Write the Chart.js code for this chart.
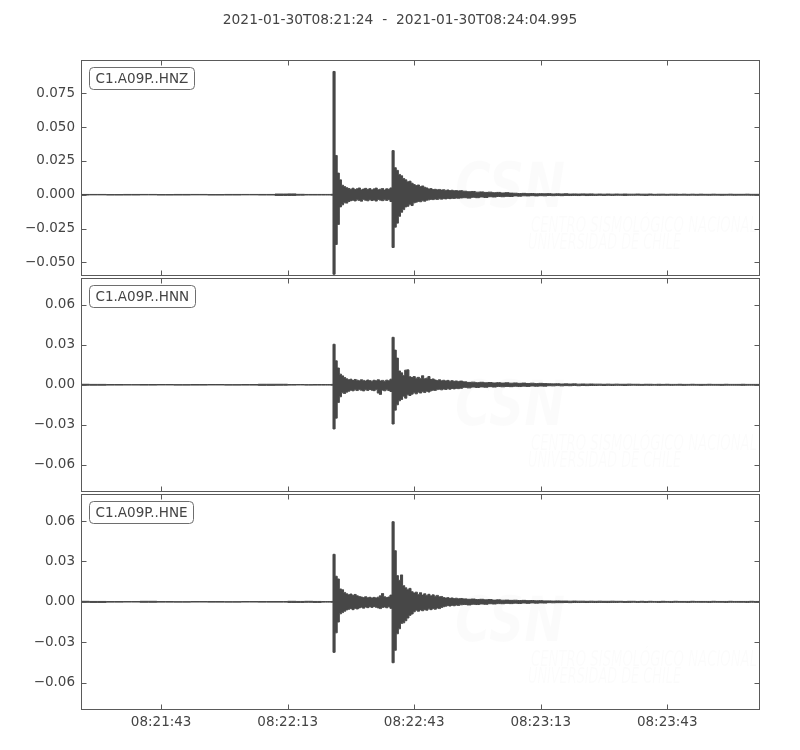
<!DOCTYPE html>
<html><head><meta charset="utf-8">
<script src="https://cdn.jsdelivr.net/npm/chart.js@4"></script>
<style>
html,body{margin:0;padding:0;background:#fff;}
#wrap{position:relative;width:800px;height:750px;overflow:hidden;background:#fff;}
canvas{position:absolute;left:0;}
</style></head><body>
<div id="wrap">
<canvas id="c1" width="800" height="290" style="top:0px"></canvas>
<canvas id="c2" width="800" height="242" style="top:264px"></canvas>
<canvas id="c3" width="800" height="270" style="top:480px"></canvas>
</div>
<script>
// ---------------- DATA ----------------
const titleText = '2021-01-30T08:21:24  -  2021-01-30T08:24:04.995';
const channels = ['C1.A09P..HNZ', 'C1.A09P..HNN', 'C1.A09P..HNE'];
const traceEnd = 160.995; // seconds after 08:21:24

// x tick positions (seconds after 08:21:24) and their labels
const xTickSec = [19, 49, 79, 109, 139];
const xTickLabels = ['08:21:43', '08:22:13', '08:22:43', '08:23:13', '08:23:43'];

// y ticks per panel
const yTicksZ = [-0.05, -0.025, 0, 0.025, 0.05, 0.075];
const yTickLabelsZ = ['\u22120.050', '\u22120.025', '0.000', '0.025', '0.050', '0.075'];
const yTicksNE = [-0.06, -0.03, 0, 0.03, 0.06];
const yTickLabelsNE = ['\u22120.06', '\u22120.03', '0.00', '0.03', '0.06'];
const yRangeZ = [-0.0600, 0.0996];
const yRangeNE = [-0.0803, 0.0800];

// sample times (s after start) of the envelope bins
const timeSec = [0,4,8,12,16,20,24,28,32,36,40,44,48,50,52,54,56,58,
59,59.5,
60,60.5,61,61.5,62,62.5,
63,63.5,64,64.5,65,65.5,66,66.5,67,67.5,68,68.5,69,69.5,70,70.5,71,71.5,72,72.5,73,73.5,
74,74.5,75,75.5,76,76.5,77,77.5,78,78.5,79,79.5,80,80.5,81,81.5,82,82.5,83,83.5,84,84.5,85,85.5,86,86.5,87,87.5,88,88.5,89,89.5,90,
91,92,93,94,95,96,97,98,99,100,101,102,103,104,105,106,107,108,109,110,
111,112,113,114,115,116,117,118,119,120,121,122,123,124,125,126,127,128,129,130,
131,132,133,134,135,136,137,138,139,140,141,142,143,144,145,146,147,148,149,150,
151,152,153,154,155,156,157,158,159,160,161];

// HNZ envelope (max / min per bin)
const hnzMax = [0.0002,0.0002,0.0001,0.0002,0.0002,0.0001,0.0002,0.0002,0.0001,0.0002,0.0002,0.0002,0.0005,0.0006,0.0003,0.0002,0.0002,0.0002,
0.0002,0.0003,
0.0911,0.0290,0.0160,0.0110,0.0070,0.0060,
0.0052,0.0046,0.0040,0.0048,0.0038,0.0044,0.0050,0.0036,0.0042,0.0047,0.0039,0.0045,0.0035,0.0043,0.0049,0.0037,0.0041,0.0046,0.0034,0.0044,0.0040,0.0050,
0.0326,0.0200,0.0180,0.0150,0.0140,0.0120,0.0110,0.0095,0.0100,0.0085,0.0075,0.0068,0.0072,0.0060,0.0065,0.0055,0.0050,0.0042,0.0045,0.0038,0.0040,0.0036,0.0039,0.0034,0.0037,0.0032,0.0035,0.0030,0.0033,0.0029,0.0031,0.0028,0.0030,
0.0026,0.0022,0.0024,0.0019,0.0021,0.0017,0.0019,0.0015,0.0017,0.0013,0.0015,0.0012,
0.0011,0.0009,0.0010,0.0008,0.0009,0.0007,0.0008,0.0007,0.0008,0.0006,
0.0007,0.0006,0.0007,0.0005,0.0006,0.0005,0.0006,0.0005,0.0006,0.0004,
0.0005,0.0004,0.0005,0.0004,0.0005,0.0004,0.0005,0.0004,0.0004,0.0005,
0.0004,0.0004,0.0005,0.0003,0.0004,0.0004,0.0003,0.0004,0.0004,0.0003,
0.0004,0.0003,0.0004,0.0003,0.0004,0.0003,0.0003,0.0004,0.0003,0.0003,
0.0003,0.0004,0.0003,0.0003,0.0003,0.0004,0.0003,0.0003,0.0003];
const hnzMin = [-0.0002,-0.0001,-0.0002,-0.0002,-0.0001,-0.0002,-0.0002,-0.0001,-0.0002,-0.0002,-0.0001,-0.0002,-0.0005,-0.0005,-0.0003,-0.0002,-0.0002,-0.0002,
-0.0002,-0.0003,
-0.0588,-0.0368,-0.0220,-0.0090,-0.0075,-0.0060,
-0.0062,-0.0050,-0.0044,-0.0040,-0.0046,-0.0038,-0.0042,-0.0048,-0.0036,-0.0041,-0.0045,-0.0037,-0.0043,-0.0039,-0.0047,-0.0035,-0.0040,-0.0044,-0.0038,-0.0042,-0.0036,-0.0050,
-0.0390,-0.0240,-0.0210,-0.0160,-0.0130,-0.0110,-0.0090,-0.0085,-0.0070,-0.0080,-0.0060,-0.0055,-0.0050,-0.0052,-0.0045,-0.0048,-0.0040,-0.0038,-0.0034,-0.0036,-0.0032,-0.0035,-0.0030,-0.0033,-0.0029,-0.0031,-0.0027,-0.0029,-0.0026,-0.0028,-0.0025,-0.0027,-0.0024,
-0.0022,-0.0025,-0.0019,-0.0022,-0.0017,-0.0020,-0.0015,-0.0017,-0.0013,-0.0015,-0.0012,-0.0013,
-0.0009,-0.0011,-0.0008,-0.0009,-0.0007,-0.0009,-0.0007,-0.0008,-0.0006,-0.0007,
-0.0006,-0.0007,-0.0005,-0.0006,-0.0005,-0.0006,-0.0004,-0.0006,-0.0005,-0.0005,
-0.0004,-0.0005,-0.0004,-0.0005,-0.0004,-0.0004,-0.0005,-0.0004,-0.0004,-0.0003,
-0.0004,-0.0005,-0.0003,-0.0004,-0.0004,-0.0003,-0.0004,-0.0003,-0.0004,-0.0003,
-0.0003,-0.0004,-0.0003,-0.0004,-0.0003,-0.0003,-0.0004,-0.0003,-0.0003,-0.0004,
-0.0003,-0.0003,-0.0004,-0.0003,-0.0003,-0.0003,-0.0004,-0.0003,-0.0003];

// HNN envelope
const hnnMax = [0.0004,0.0003,0.0002,0.0001,0.0002,0.0002,0.0001,0.0002,0.0002,0.0001,0.0002,0.0004,0.0004,0.0002,0.0002,0.0001,0.0002,0.0002,
0.0002,0.0003,
0.0304,0.0180,0.0126,0.0080,0.0067,0.0055,
0.0045,0.0038,0.0042,0.0032,0.0040,0.0035,0.0030,0.0038,0.0033,0.0028,0.0036,0.0031,0.0027,0.0034,0.0030,0.0038,0.0029,0.0033,0.0027,0.0035,0.0030,0.0042,
0.0356,0.0260,0.0200,0.0104,0.0090,0.0070,0.0110,0.0112,0.0060,0.0055,0.0062,0.0050,0.0056,0.0048,0.0068,0.0045,0.0050,0.0062,0.0040,0.0044,0.0036,0.0032,0.0038,0.0030,0.0034,0.0029,0.0033,0.0027,0.0031,0.0026,0.0029,0.0025,0.0028,
0.0022,0.0018,0.0020,0.0016,0.0019,0.0015,0.0017,0.0014,0.0016,0.0013,0.0015,0.0012,0.0014,0.0011,0.0013,0.0010,0.0012,0.0009,0.0011,0.0009,
0.0008,0.0007,0.0008,0.0006,0.0007,0.0006,0.0007,0.0005,0.0006,0.0005,
0.0006,0.0005,0.0005,0.0004,0.0005,0.0004,0.0005,0.0004,0.0004,0.0005,
0.0004,0.0004,0.0003,0.0004,0.0004,0.0003,0.0004,0.0003,0.0004,0.0003,
0.0003,0.0004,0.0003,0.0003,0.0004,0.0003,0.0003,0.0003,0.0004,0.0003,
0.0003,0.0003,0.0004,0.0003,0.0003,0.0003,0.0004,0.0003,0.0003,0.0003,0.0003];
const hnnMin = [-0.0003,-0.0003,-0.0002,-0.0001,-0.0002,-0.0001,-0.0002,-0.0002,-0.0001,-0.0002,-0.0002,-0.0004,-0.0003,-0.0002,-0.0001,-0.0002,-0.0002,-0.0002,
-0.0002,-0.0003,
-0.0331,-0.0250,-0.0133,-0.0090,-0.0060,-0.0065,
-0.0055,-0.0048,-0.0040,-0.0045,-0.0038,-0.0043,-0.0036,-0.0041,-0.0046,-0.0037,-0.0042,-0.0035,-0.0040,-0.0044,-0.0036,-0.0062,-0.0072,-0.0040,-0.0045,-0.0038,-0.0043,-0.0050,
-0.0294,-0.0190,-0.0150,-0.0120,-0.0110,-0.0085,-0.0100,-0.0075,-0.0080,-0.0070,-0.0060,-0.0068,-0.0055,-0.0062,-0.0052,-0.0058,-0.0048,-0.0054,-0.0045,-0.0040,-0.0042,-0.0036,-0.0034,-0.0038,-0.0032,-0.0035,-0.0030,-0.0033,-0.0028,-0.0031,-0.0027,-0.0029,-0.0026,
-0.0019,-0.0023,-0.0017,-0.0020,-0.0016,-0.0018,-0.0014,-0.0017,-0.0013,-0.0015,-0.0012,-0.0014,-0.0011,-0.0013,-0.0010,-0.0012,-0.0009,-0.0011,-0.0009,-0.0010,
-0.0007,-0.0008,-0.0006,-0.0008,-0.0006,-0.0007,-0.0005,-0.0007,-0.0005,-0.0006,
-0.0005,-0.0005,-0.0004,-0.0005,-0.0004,-0.0005,-0.0004,-0.0004,-0.0005,-0.0004,
-0.0003,-0.0004,-0.0004,-0.0003,-0.0004,-0.0003,-0.0004,-0.0003,-0.0003,-0.0004,
-0.0003,-0.0003,-0.0004,-0.0003,-0.0003,-0.0003,-0.0004,-0.0003,-0.0003,-0.0003,
-0.0003,-0.0004,-0.0003,-0.0003,-0.0003,-0.0003,-0.0004,-0.0003,-0.0003,-0.0003,-0.0003];

// HNE envelope
const hneMax = [0.0004,0.0003,0.0002,0.0002,0.0004,0.0002,0.0001,0.0002,0.0002,0.0001,0.0002,0.0002,0.0002,0.0004,0.0003,0.0004,0.0003,0.0002,
0.0002,0.0003,
0.0353,0.0190,0.0170,0.0096,0.0090,0.0070,
0.0060,0.0052,0.0058,0.0048,0.0055,0.0045,0.0040,0.0036,0.0032,0.0038,0.0030,0.0034,0.0028,0.0033,0.0029,0.0035,0.0045,0.0062,0.0038,0.0032,0.0036,0.0050,
0.0595,0.0380,0.0195,0.0160,0.0200,0.0120,0.0104,0.0090,0.0100,0.0075,0.0065,0.0072,0.0055,0.0068,0.0050,0.0060,0.0048,0.0056,0.0044,0.0052,0.0042,0.0048,0.0038,0.0040,0.0032,0.0028,0.0031,0.0026,0.0029,0.0024,0.0027,0.0023,0.0025,
0.0022,0.0019,0.0021,0.0017,0.0019,0.0015,0.0017,0.0013,0.0015,0.0012,0.0013,0.0011,0.0012,0.0010,0.0011,0.0009,0.0010,0.0008,0.0009,0.0007,
0.0007,0.0006,0.0007,0.0006,0.0006,0.0005,0.0006,0.0005,0.0005,0.0004,
0.0005,0.0004,0.0005,0.0004,0.0004,0.0005,0.0004,0.0004,0.0003,0.0004,
0.0004,0.0003,0.0004,0.0003,0.0004,0.0003,0.0003,0.0004,0.0003,0.0003,
0.0004,0.0003,0.0003,0.0003,0.0004,0.0003,0.0003,0.0003,0.0003,0.0004,
0.0003,0.0003,0.0003,0.0004,0.0003,0.0003,0.0003,0.0003,0.0004,0.0003,0.0003];
const hneMin = [-0.0003,-0.0004,-0.0002,-0.0001,-0.0003,-0.0002,-0.0002,-0.0001,-0.0002,-0.0002,-0.0001,-0.0002,-0.0002,-0.0004,-0.0004,-0.0003,-0.0004,-0.0002,
-0.0002,-0.0003,
-0.0375,-0.0230,-0.0150,-0.0089,-0.0080,-0.0070,
-0.0060,-0.0055,-0.0050,-0.0058,-0.0048,-0.0053,-0.0045,-0.0040,-0.0047,-0.0038,-0.0043,-0.0036,-0.0041,-0.0035,-0.0040,-0.0045,-0.0050,-0.0042,-0.0038,-0.0044,-0.0036,-0.0048,
-0.0452,-0.0360,-0.0237,-0.0200,-0.0160,-0.0156,-0.0140,-0.0120,-0.0100,-0.0090,-0.0074,-0.0062,-0.0070,-0.0060,-0.0066,-0.0058,-0.0062,-0.0052,-0.0058,-0.0050,-0.0055,-0.0046,-0.0050,-0.0042,-0.0036,-0.0032,-0.0028,-0.0031,-0.0026,-0.0029,-0.0024,-0.0027,-0.0022,
-0.0020,-0.0023,-0.0018,-0.0020,-0.0016,-0.0018,-0.0014,-0.0016,-0.0013,-0.0014,-0.0011,-0.0013,-0.0010,-0.0012,-0.0009,-0.0011,-0.0008,-0.0010,-0.0008,-0.0009,
-0.0006,-0.0007,-0.0006,-0.0006,-0.0005,-0.0006,-0.0005,-0.0005,-0.0004,-0.0005,
-0.0004,-0.0005,-0.0004,-0.0004,-0.0005,-0.0004,-0.0004,-0.0003,-0.0004,-0.0004,
-0.0003,-0.0004,-0.0003,-0.0004,-0.0003,-0.0003,-0.0004,-0.0003,-0.0003,-0.0004,
-0.0003,-0.0003,-0.0003,-0.0004,-0.0003,-0.0003,-0.0003,-0.0003,-0.0004,-0.0003,
-0.0003,-0.0003,-0.0004,-0.0003,-0.0003,-0.0003,-0.0003,-0.0004,-0.0003,-0.0003,-0.0003];

// ---------------- BUILD ----------------
[hnzMax,hnzMin,hnnMax,hnnMin,hneMax,hneMin].forEach((a,i)=>{
  if (a.length !== timeSec.length) throw new Error('length mismatch in array '+i+': '+a.length+' vs '+timeSec.length);
});

const toPoints = vals => timeSec.map((t, i) => ({x: t, y: vals[i]}));

const FONT = 'DejaVu Sans';
const TXT = '#444444';
const TRACE = '#474747';
const FRAME = '#5a5a5a';

const framePlugin = {
  id: 'frame',
  afterDatasetsDraw(chart, args, opts) {
    const {ctx, chartArea: a, scales} = chart;
    ctx.save();
    ctx.strokeStyle = FRAME;
    ctx.lineWidth = 1;
    const L = Math.round(a.left) + 0.5, R = Math.round(a.right) - 0.5;
    const T = Math.round(a.top) + 0.5, B = Math.round(a.bottom) - 0.5;
    ctx.strokeRect(L, T, R - L, B - T);
    ctx.beginPath();
    xTickSec.forEach(v => {
      const px = Math.round(scales.x.getPixelForValue(v)) + 0.5;
      ctx.moveTo(px, T); ctx.lineTo(px, T + 5);
      ctx.moveTo(px, B); ctx.lineTo(px, B - 5);
    });
    (opts.yTicks || []).forEach(v => {
      const py = Math.round(scales.y.getPixelForValue(v)) + 0.5;
      ctx.moveTo(L, py); ctx.lineTo(L + 5, py);
      ctx.moveTo(R, py); ctx.lineTo(R - 5, py);
    });
    ctx.stroke();
    // channel label box
    if (opts.label) {
      ctx.font = '13.5px "' + FONT + '"';
      const w = ctx.measureText(opts.label).width;
      const bx = Math.round(a.left) + 8.5, by = Math.round(a.top) + 7.5;
      const bw = Math.round(w + 12), bh = 22;
      ctx.beginPath();
      ctx.roundRect(bx, by, bw, bh, 4);
      ctx.fillStyle = '#ffffff';
      ctx.fill();
      ctx.strokeStyle = '#6e6e6e';
      ctx.stroke();
      ctx.fillStyle = TXT;
      ctx.textBaseline = 'middle';
      ctx.textAlign = 'left';
      ctx.fillText(opts.label, bx + 6, by + bh / 2 + 0.5);
    }
    ctx.restore();
  }
};

const watermarkPlugin = {
  id: 'watermark',
  beforeDatasetsDraw(chart) {
    const {ctx, chartArea: a} = chart;
    ctx.save();
    ctx.fillStyle = 'rgba(0,0,0,0.016)';
    ctx.textBaseline = 'alphabetic';
    function fitText(txt, font, x, y, w) {
      ctx.font = font;
      const m = ctx.measureText(txt).width;
      ctx.save();
      ctx.translate(x, y);
      ctx.scale(w / m, 1);
      ctx.fillText(txt, 0, 0);
      ctx.restore();
    }
    fitText('CSN', 'italic bold 62px "' + FONT + '"', a.left + 374, a.top + 147, 110);
    fitText('CENTRO SISMOLÓGICO NACIONAL', 'italic 22px "' + FONT + '"', a.left + 450, a.top + 172, 226);
    fitText('UNIVERSIDAD DE CHILE', 'italic 22px "' + FONT + '"', a.left + 447, a.top + 189, 153);
    ctx.restore();
  }
};

function makeChart(id, hi, lo, opt) {
  const yTicks = opt.yTicks, yLabels = opt.yLabels;
  return new Chart(document.getElementById(id), {
    type: 'line',
    data: {
      datasets: [{
        data: toPoints(hi),
        borderColor: TRACE,
        backgroundColor: TRACE,
        borderWidth: 1,
        pointRadius: 0,
        stepped: 'middle',
        fill: '+1'
      }, {
        data: toPoints(lo),
        borderColor: TRACE,
        backgroundColor: TRACE,
        borderWidth: 1,
        pointRadius: 0,
        stepped: 'middle',
        fill: false
      }]
    },
    options: {
      responsive: false,
      animation: false,
      events: [],
      layout: {padding: opt.padding},
      plugins: {
        legend: {display: false},
        tooltip: {enabled: false},
        filler: {propagate: false},
        title: opt.title ? {
          display: true,
          text: opt.title,
          color: TXT,
          font: {family: FONT, size: 13.8, weight: 'normal', lineHeight: 1.2},
          padding: {top: 12.4, bottom: 31}
        } : {display: false},
        frame: {yTicks: yTicks, label: opt.label}
      },
      scales: {
        x: {
          type: 'linear',
          min: 0,
          max: traceEnd,
          display: opt.showX,
          grid: {display: false, drawTicks: false},
          border: {display: false},
          afterBuildTicks: s => { s.ticks = xTickSec.map(v => ({value: v})); },
          afterFit: s => { if (opt.showX) s.height = 30; },
          ticks: {
            color: TXT,
            padding: 4,
            maxRotation: 0,
            autoSkip: false,
            font: {family: FONT, size: 13.5},
            callback: (v, i) => xTickLabels[i]
          }
        },
        y: {
          type: 'linear',
          position: 'left',
          min: opt.yRange[0],
          max: opt.yRange[1],
          grid: {display: false, drawTicks: false},
          border: {display: false},
          afterBuildTicks: s => { s.ticks = yTicks.map(v => ({value: v})); },
          afterFit: s => { s.width = 81; },
          ticks: {
            color: TXT,
            padding: 6,
            autoSkip: false,
            font: {family: FONT, size: 13.5},
            callback: (v, i) => yLabels[i]
          }
        },
        yRight: {
          type: 'linear',
          position: 'right',
          min: opt.yRange[0],
          max: opt.yRange[1],
          grid: {display: false, drawTicks: false},
          border: {display: false},
          ticks: {display: false},
          afterFit: s => { s.width = 40; }
        }
      }
    },
    plugins: [watermarkPlugin, framePlugin]
  });
}

makeChart('c1', hnzMax, hnzMin, {
  title: titleText, label: channels[0], yTicks: yTicksZ, yLabels: yTickLabelsZ,
  yRange: yRangeZ, showX: false, padding: {top: 0, bottom: 13, left: 0, right: 0}
});
makeChart('c2', hnnMax, hnnMin, {
  label: channels[1], yTicks: yTicksNE, yLabels: yTickLabelsNE,
  yRange: yRangeNE, showX: false, padding: {top: 13, bottom: 13, left: 0, right: 0}
});
makeChart('c3', hneMax, hneMin, {
  label: channels[2], yTicks: yTicksNE, yLabels: yTickLabelsNE,
  yRange: yRangeNE, showX: true, padding: {top: 13, bottom: 10, left: 0, right: 0}
});
</script>
</body></html>
